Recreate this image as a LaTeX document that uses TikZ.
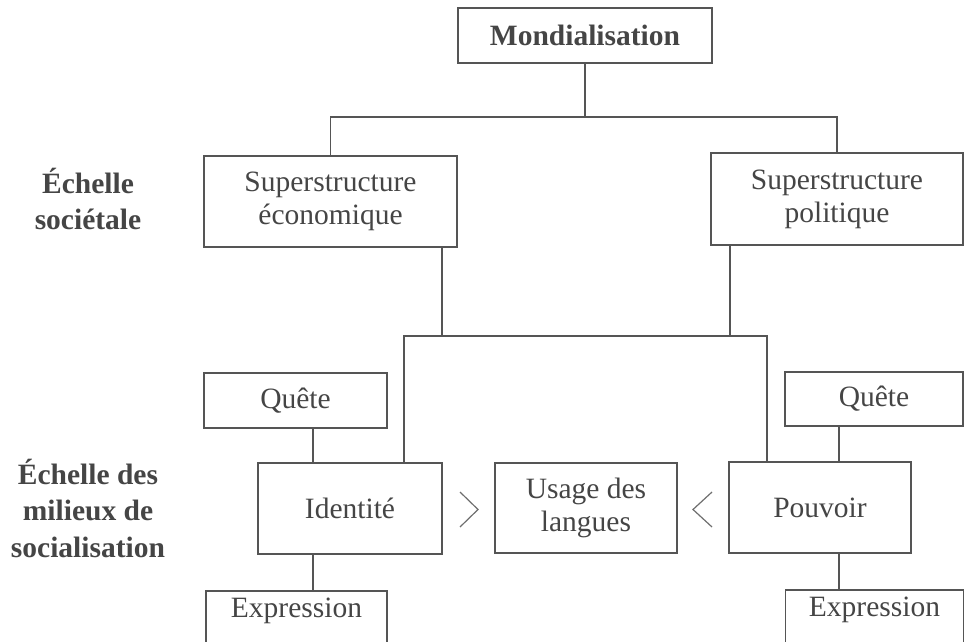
\documentclass[tikz,border=0pt]{standalone}
\usepackage{fontspec}
\setmainfont{Liberation Serif}
\definecolor{ink}{HTML}{454545}
\definecolor{rulec}{HTML}{555555}
\begin{document}
\begin{tikzpicture}[x=1pt,y=-1pt,
  box/.style={draw=rulec, line width=1.6pt, inner sep=0pt, text=ink, align=center,
              font=\fontsize{29.5}{33}\selectfont},
  lbl/.style={text=ink, align=center, inner sep=0pt,
              font=\bfseries\fontsize{29.5}{36.5}\selectfont},
  conn/.style={draw=rulec, line width=1.2pt},
  chev/.style={draw=rulec!85, line width=1.2pt}]
\useasboundingbox (0,0) rectangle (966,642);
\clip (0,0) rectangle (966,642);

% boxes
\node[box, minimum width=254pt, minimum height=55pt,
      font=\bfseries\fontsize{29.5}{33}\selectfont] (mond) at (585,35.5) {Mondialisation};
\node[box, minimum width=253pt, minimum height=91pt] (se) at (330.5,201.5) {Superstructure\\économique};
\node[box, minimum width=252pt, minimum height=92pt] (sp) at (837,199) {Superstructure\\politique};
\node[box, minimum width=183pt, minimum height=55pt] (q1) at (295.5,400.5) {Quête};
\node[box, minimum width=184pt, minimum height=91pt] (id) at (350,508.5) {Identité};
\node[box, minimum width=182pt, minimum height=90pt] (us) at (586,508) {Usage des\\langues};
\node[box, minimum width=182pt, minimum height=91pt] (pv) at (820,507.5) {Pouvoir};
\node[box, minimum width=178pt, minimum height=54pt] (q2) at (874,399) {Quête};
\node[box, minimum width=181pt, anchor=north, text height=27pt, text depth=45pt] (e1) at (296.5,590) {Expression};
\node[box, minimum width=178pt, anchor=north, text height=27pt, text depth=45pt] (e2) at (874.5,589) {Expression};

% side labels
\node[lbl] (l1) at (88,199) {Échelle\\sociétale};
\node[lbl] (l2) at (88,508) {Échelle des\\milieux de\\socialisation};

% connectors
\coordinate (j1) at (585,117);
\draw[conn] (mond.south) -- (j1);
\draw[conn] (se.north) |- (j1) -| (sp.north);

\coordinate (a1) at (442,336);
\coordinate (a2) at (730,336);
\coordinate (b1) at (404,336);
\coordinate (b2) at (767,336);
\draw[conn] (se.south -| a1) -- (a1);
\draw[conn] (sp.south -| a2) -- (a2);
\draw[conn] (id.north -| b1) -- (b1) -- (b2) -- (pv.north -| b2);

\coordinate (c1) at (313,0);
\coordinate (c2) at (839,0);
\draw[conn] (q1.south -| c1) -- (id.north -| c1);
\draw[conn] (id.south -| c1) -- (e1.north -| c1);
\draw[conn] (q2.south -| c2) -- (pv.north -| c2);
\draw[conn] (pv.south -| c2) -- (e2.north -| c2);

% chevrons
\draw[chev] (460,492) -- (478,509.5) -- (460,527);
\draw[chev] (712,492) -- (693,509.5) -- (712,527);
\end{tikzpicture}
\end{document}
